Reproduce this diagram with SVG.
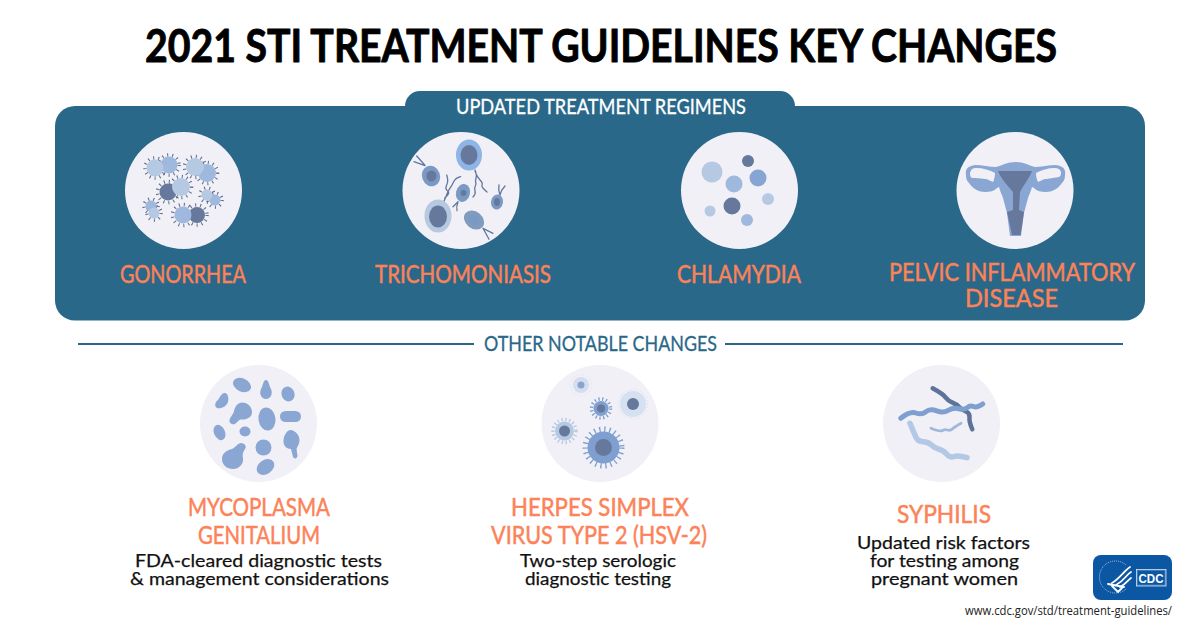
<svg xmlns="http://www.w3.org/2000/svg" width="1200" height="627" viewBox="0 0 1200 627">
<style>
text{font-family:"Lato","Liberation Sans",sans-serif;text-anchor:middle}
.title{font-size:45px;font-weight:700;fill:#000;stroke:#000;stroke-width:.9;stroke-linejoin:round}
.head{font-size:25px;font-weight:400;fill:#fc8258;stroke:#fc8258;stroke-width:.5}
.sub{font-size:21px;fill:#fff;font-weight:400;stroke:#fff;stroke-width:.3}
.oth{font-size:21px;fill:#2a6889;font-weight:400;stroke:#2a6889;stroke-width:.3}
.body{font-size:18px;fill:#111;stroke:#111;stroke-width:.25}
.bub{fill:#f1f0f7}
.sp{fill:none;stroke:#5f6f8c;stroke-width:3.500}
.fl{fill:none;stroke:#62779b;stroke-width:1.300;stroke-linecap:round}
.l{fill:#b6c9e3}.m{fill:#9fb8dd}.b{fill:#87a5d3}.d{fill:#66799c}
.bl{fill:#8aa7d3}
.w{fill:none;stroke-linecap:round;stroke-linejoin:round}
.e{fill:none;stroke:#fff;stroke-width:1.800;stroke-linecap:round}
</style>
<rect width="1200" height="627" fill="#fff"/>
<text class="title" x="601" y="62" textLength="912" lengthAdjust="spacingAndGlyphs">2021 STI TREATMENT GUIDELINES KEY CHANGES</text>
<g id="panel">
<rect x="405" y="91" width="390" height="40" rx="15" fill="#2a6889"/>
<rect x="55" y="106" width="1090" height="214.500" rx="20" fill="#2a6889"/>
<text class="sub" x="601" y="114" textLength="290" lengthAdjust="spacingAndGlyphs">UPDATED TREATMENT REGIMENS</text>
</g>
<g id="gonorrhea">
<circle class="bub" cx="183.500" cy="190.500" r="58.500"/>
<g class="sp" stroke-dasharray="1 4">
<circle cx="155" cy="168" r="10"/><circle cx="169" cy="165" r="10"/><circle cx="195" cy="167" r="10.500"/><circle cx="207" cy="173" r="10.500"/><circle cx="168" cy="192" r="10.500"/><circle cx="181" cy="187" r="10.500"/><circle cx="207" cy="195" r="7"/><circle cx="215" cy="200" r="7"/><circle cx="151" cy="206" r="7"/><circle cx="154" cy="213" r="7"/><circle cx="183" cy="215" r="10.500"/><circle cx="197" cy="215" r="10"/>
</g>
<circle class="m" cx="169" cy="165" r="8.500"/><circle class="l" cx="155" cy="168" r="8.500"/>
<circle class="m" cx="207" cy="173" r="9"/><circle class="l" cx="195" cy="167" r="9"/>
<circle class="d" cx="168" cy="192" r="8.500"/><circle class="l" cx="181" cy="187" r="9"/>
<circle class="m" cx="215" cy="200" r="5.500"/><circle class="l" cx="207" cy="195" r="5.500"/>
<circle class="m" cx="151" cy="206" r="5.500"/><circle class="l" cx="154" cy="213" r="5.500"/>
<circle class="d" cx="197" cy="215" r="8"/><circle class="m" cx="183" cy="215" r="8.500"/>
<text class="head" x="183" y="283" textLength="126" lengthAdjust="spacingAndGlyphs">GONORRHEA</text>
</g>
<g id="trichomoniasis">
<circle class="bub" cx="461" cy="190.500" r="58.500"/>
<path class="fl" d="M475 170q2 5 1 8t0 6q-2 4-1 7t-2 6M475 171q2 6 5 9t2 5t5 7M416.700 156l8 9M414 161.700l11 4M446.700 175q2 6 0 10t1 6t-3 7M460.700 176.700q-5 1-7 5t-4 7t-3 6t-3 7M458 201.700l-5 5M457 210.700q-1-4 1-9M499 185q-1 5 1 10M505 186q-4 4-5 9M483 228.300l10 5M483 228.300l6 11"/>
<ellipse cx="469" cy="155" rx="13" ry="15.500" fill="#8fb4e6"/><ellipse class="d" cx="469" cy="155" rx="8.500" ry="10"/>
<ellipse cx="431" cy="176" rx="9" ry="10.500" transform="rotate(-20 431 176)" fill="#7a99c5"/><ellipse class="d" cx="431.500" cy="176" rx="5" ry="5.500"/>
<ellipse cx="463" cy="193" rx="7" ry="9" transform="rotate(15 463 193)" fill="#7a99c5"/><circle class="d" cx="463.500" cy="193" r="3"/>
<ellipse cx="497" cy="202" rx="6" ry="7.500" transform="rotate(10 497 202)" fill="#7a99c5"/><ellipse class="d" cx="497" cy="202" rx="3" ry="4"/>
<ellipse cx="438" cy="216" rx="13.500" ry="16.500" fill="#b7c9e0"/><ellipse class="d" cx="438" cy="216.500" rx="9" ry="11"/>
<ellipse cx="474" cy="220" rx="8.500" ry="11" transform="rotate(-50 474 220)" fill="#7f9cbe"/><ellipse cx="474" cy="220" rx="4.500" ry="6" transform="rotate(-50 474 220)" fill="#7a99c5"/>
<text class="head" x="463" y="283" textLength="176" lengthAdjust="spacingAndGlyphs">TRICHOMONIASIS</text>
</g>
<g id="chlamydia">
<circle class="bub" cx="739.500" cy="190.500" r="58.500"/>
<circle class="l" cx="712" cy="172" r="10.500"/><circle class="d" cx="748" cy="161" r="6"/><circle class="b" cx="758" cy="178" r="8.500"/><circle class="m" cx="734" cy="184" r="8.500"/><circle class="l" cx="768" cy="199" r="6"/><circle class="d" cx="732" cy="206" r="8.500"/><circle class="l" cx="710" cy="211" r="5.500"/><circle class="m" cx="747" cy="220" r="6"/>
<text class="head" x="739" y="283" textLength="124" lengthAdjust="spacingAndGlyphs">CHLAMYDIA</text>
</g>
<g id="pid">
<circle class="bub" cx="1015" cy="190.500" r="58.500"/>
<path class="bl" d="M1015.500 162C1008 162 1003 165 996 167C990 167 982 165 975 165C968 166 965 169 966 175C966 179 967 181 969 183C973 189 979 192 985 192C990 192 994 191 997 188L999 187C1000 191 1002 195 1003 198L1007 213L1010 236L1021 236L1024 213L1028 198C1029 195 1031 191 1032 187L1034 188C1037 191 1041 192 1046 192C1052 192 1058 189 1062 183C1064 181 1065 179 1065 175C1066 169 1063 166 1056 165C1049 165 1041 167 1035 167C1028 165 1023 162 1015.500 162Z"/>
<path class="bub" d="M970 173C971 169 973 168 976 168C983 168 990 170 995 173C995 177 994 180 993 182C990 181 988 179 985 179C980 178 976 178 972 178C970 177 970 175 970 173ZM1061 172C1060 169 1058 168 1055 168C1048 168 1041 170 1036 173C1036 177 1037 180 1038 182C1041 181 1043 179 1046 179C1051 178 1055 178 1059 177C1061 176 1061 174 1061 172Z"/>
<path class="d" d="M998 171L1032 171C1029 179 1023 186 1020 192L1019 210L1024 212L1020.500 235L1012 235L1007 212L1013 210L1013 192C1008 186 1001 179 998 171Z"/>
<text class="head" x="1012" y="281" textLength="246" lengthAdjust="spacingAndGlyphs">PELVIC INFLAMMATORY</text>
<text class="head" x="1011.500" y="307" textLength="93" lengthAdjust="spacingAndGlyphs">DISEASE</text>
</g>
<g id="divider">
<path d="M78 344H474M725 344H1123" stroke="#2a6889" stroke-width="2" fill="none"/>
<text class="oth" x="600.500" y="351" textLength="233" lengthAdjust="spacingAndGlyphs">OTHER NOTABLE CHANGES</text>
</g>
<g id="mycoplasma">
<circle class="bub" cx="258.500" cy="423.500" r="58.500"/>
<g class="bl">
<ellipse cx="242" cy="385" rx="9.500" ry="6.500" transform="rotate(25 242 385)"/>
<path d="M266 380C269 380 269 386 271 389C273 393 271 399 266 399C261 399 259 393 261 389C263 386 263 380 266 380Z"/>
<ellipse cx="288" cy="394" rx="6.500" ry="7.500" transform="rotate(-20 288 394)"/>
<path d="M224 393C228 392 229 398 228 402C226 407 221 409 217 408C214 406 215 402 218 400C220 397 221 394 224 393Z"/>
<path d="M242 402.500C248 402.500 252 407 252 412C252 418 246 420 240 419.500L235 424C232 425 229 423 229.500 420C230 417 233 415 234 411C235 406 238 403 242 402.500Z"/>
<ellipse cx="267" cy="419" rx="8.500" ry="11.500" transform="rotate(-8 267 419)"/>
<rect x="280" y="411" width="21" height="11" rx="5.500"/>
<ellipse cx="219.500" cy="432.500" rx="5.500" ry="8" transform="rotate(-25 219.500 432.500)"/>
<ellipse cx="245" cy="431.500" rx="5.500" ry="5"/>
<path d="M291 430C296 431 300 436 299.500 441C299 445 297 447 296.500 449L297.500 456C297 459 294 459 293 457L291 449C286 449 283 445 283.500 440C284 435 287 430 291 430Z"/>
<circle cx="263.500" cy="447.500" r="8"/>
<path d="M241 443C245 443 247 447 245 449C243 452 242 455 243 458C244 464 239 469 233 469C227 469 222 465 222 459C222 453 227 450 232 449C236 447 238 443 241 443Z"/>
<ellipse cx="265.500" cy="467" rx="9.500" ry="7" transform="rotate(-35 265.500 467)"/>
</g>
<text class="head" x="259" y="516" textLength="142" lengthAdjust="spacingAndGlyphs">MYCOPLASMA</text>
<text class="head" x="259" y="544" textLength="122" lengthAdjust="spacingAndGlyphs">GENITALIUM</text>
<text class="body" x="258.500" y="567" textLength="247" lengthAdjust="spacingAndGlyphs">FDA-cleared diagnostic tests</text>
<text class="body" x="259.500" y="585" textLength="259" lengthAdjust="spacingAndGlyphs">&amp; management considerations</text>
</g>
<g id="herpes">
<circle class="bub" cx="600" cy="423.500" r="58.500"/>
<circle cx="581" cy="385" r="10.500" fill="none" stroke="#dfe5f2" stroke-width="1.500" stroke-dasharray="1 2"/>
<circle cx="581" cy="385" r="8" fill="#d5deef"/><circle class="b" cx="581" cy="385" r="3.500"/>
<circle cx="601" cy="408.500" r="9.500" fill="none" stroke="#7f9fd0" stroke-width="3.500" stroke-dasharray="1.300 2.500"/>
<circle cx="601" cy="408.500" r="7.500" fill="#7f9fd0"/><circle class="d" cx="601" cy="408.500" r="4"/>
<circle cx="633" cy="404" r="14.500" fill="none" stroke="#dbe3f0" stroke-width="1.500" stroke-dasharray="1 2"/>
<circle cx="633" cy="404" r="13" fill="#d5e0f0"/><circle class="d" cx="633" cy="404" r="6"/>
<circle cx="564.500" cy="431" r="11.500" fill="none" stroke="#b6c9e3" stroke-width="3.500" stroke-dasharray="1.300 2.600"/>
<circle class="l" cx="564.500" cy="431" r="9.500"/><circle class="d" cx="564.500" cy="431" r="5.500"/>
<circle cx="603.500" cy="447.500" r="18" fill="none" stroke="#7f9fd0" stroke-width="6" stroke-dasharray="1.300 3.700"/>
<circle cx="603.500" cy="447.500" r="16" fill="#7f9fd0"/><circle class="d" cx="603.500" cy="447.500" r="8.500"/>
<text class="head" x="600" y="516" textLength="178" lengthAdjust="spacingAndGlyphs">HERPES SIMPLEX</text>
<text class="head" x="599" y="544" textLength="216" lengthAdjust="spacingAndGlyphs">VIRUS TYPE 2 (HSV-2)</text>
<text class="body" x="598" y="567" textLength="156" lengthAdjust="spacingAndGlyphs">Two-step serologic</text>
<text class="body" x="598" y="585" textLength="146" lengthAdjust="spacingAndGlyphs">diagnostic testing</text>
</g>
<g id="syphilis">
<circle class="bub" cx="941.500" cy="423.500" r="58.500"/>
<path class="w" stroke="#b3c8e4" stroke-width="5.500" d="M910 423.300Q914 433 916 437.400Q918 441.700 923 441.700Q928 441.700 931.500 445Q935 448.300 939 449.200Q943 450 946.500 454Q950 458 954 456.500Q958 455 967 457.700"/>
<path class="w" stroke="#9fb8dd" stroke-width="2.800" d="M931 428.300Q940 432 942.500 430.500Q945 429 947.500 430Q950 431 952.500 428.900Q955 426.700 961 423.300"/>
<path class="w" stroke="#5d7399" stroke-width="4.500" d="M932.700 388.300Q943 394 945.500 397.300Q948 400.700 953 402.900Q958 405 959.900 407.500Q961.700 410 965.900 411.500Q970 413 969.500 417.400Q969 421.700 972.300 429.300"/>
<path class="w" stroke="#7f9fd0" stroke-width="5" d="M900.700 418.300Q910 411 915.900 413Q921.700 415 925.900 411.700Q930 408.300 936.700 410.800Q943.300 413.300 948.200 410.300Q953 407.300 959 408.700Q965 410 967.500 407.500Q970 405 973.500 406.500Q977 408 982.700 404"/>
<text class="head" x="944" y="523" textLength="94" lengthAdjust="spacingAndGlyphs">SYPHILIS</text>
<text class="body" x="943.500" y="549" textLength="173" lengthAdjust="spacingAndGlyphs">Updated risk factors</text>
<text class="body" x="944.500" y="567" textLength="149" lengthAdjust="spacingAndGlyphs">for testing among</text>
<text class="body" x="944.500" y="585" textLength="147" lengthAdjust="spacingAndGlyphs">pregnant women</text>
</g>
<g id="cdc-logo">
<rect x="1093" y="555" width="79" height="45" rx="8" fill="#0b57a4"/>
<path d="M1126 565A16 16 0 1 0 1126 589" fill="none" stroke="#a9c6e6" stroke-width="1" stroke-dasharray="1 1"/>
<path class="e" d="M1130 567C1124 571 1120 578 1112 583M1131 572C1126 575 1124 581 1116 585M1131 578C1128 580 1126 584 1120 587M1108 584L1124 587M1112 586L1118 592L1122 588"/>
<rect x="1136.500" y="569.500" width="29.500" height="16.500" fill="#3b7ab9" stroke="#d8e6f5" stroke-width=".8"/>
<rect x="1138" y="571" width="26.500" height="13.500" fill="#0b57a4"/>
<text x="1151" y="582.500" fill="#fff" style="font-family:'Liberation Sans',sans-serif;font-weight:700;font-size:13px" textLength="25" lengthAdjust="spacingAndGlyphs">CDC</text>
</g>
<text x="1068.500" y="615" fill="#222" style="font-family:'Open Sans','Liberation Sans',sans-serif;font-size:12px" textLength="207" lengthAdjust="spacingAndGlyphs">www.cdc.gov/std/treatment-guidelines/</text>
</svg>
